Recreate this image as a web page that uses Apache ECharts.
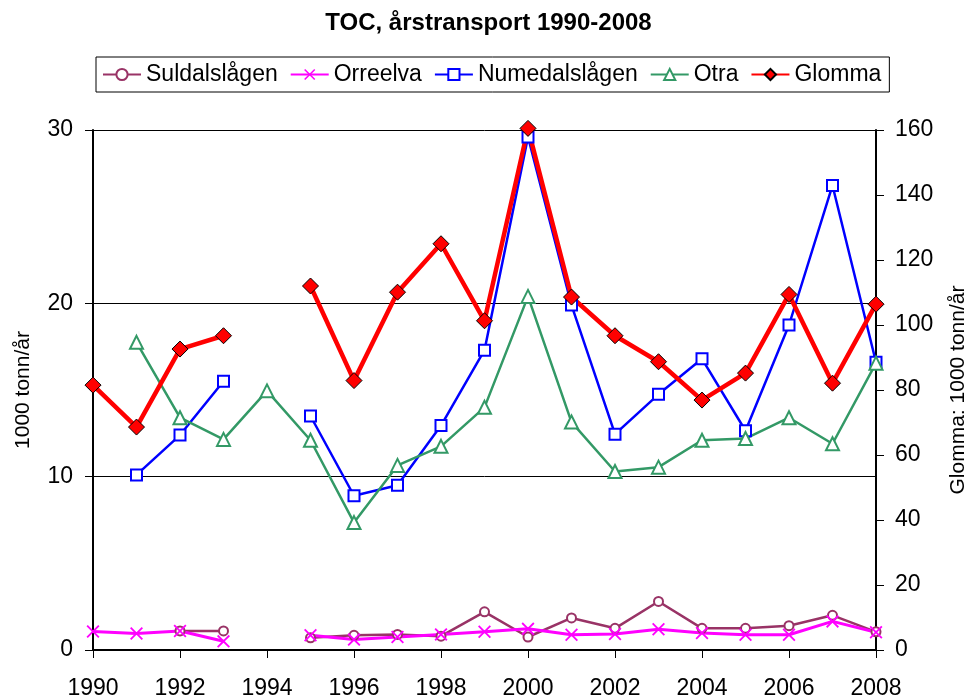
<!DOCTYPE html>
<html>
<head>
<meta charset="utf-8">
<title>TOC, årstransport 1990-2008</title>
<script src="https://cdn.jsdelivr.net/npm/echarts@6/dist/echarts.min.js"></script>
<style>
  html, body { margin: 0; padding: 0; background: #fff; }
  #chart { width: 977px; height: 700px; }
</style>
</head>
<body>
<div id="chart"></div>
<script>
// år (x-aksen)
var years = ['1990', '1991', '1992', '1993', '1994', '1995', '1996', '1997', '1998', '1999',
  '2000', '2001', '2002', '2003', '2004', '2005', '2006', '2007', '2008'];

// 1000 tonn/år, venstre akse
var suldalslagen = [null, null, 1.1, 1.1, null, 0.7, 0.85, 0.9, 0.8, 2.2, 0.75, 1.85, 1.25, 2.8, 1.25, 1.25, 1.4, 2.0, 1.05];
var orreelva = [1.07, 0.95, 1.1, 0.5, null, 0.85, 0.6, 0.75, 0.9, 1.05, 1.22, 0.88, 0.92, 1.2, 0.98, 0.88, 0.88, 1.65, 1.02];
var numedalslagen = [null, 10.1, 12.4, 15.5, null, 13.5, 8.9, 9.5, 12.95, 17.3, 29.6, 19.9, 12.45, 14.75, 16.8, 12.65, 18.75, 26.8, 16.6];
var otra = [null, 17.75, 13.4, 12.15, 14.95, 12.1, 7.35, 10.65, 11.75, 14.0, 20.4, 13.15, 10.3, 10.55, 12.1, 12.2, 13.4, 11.9, 16.55];
// Glomma, høyre akse
var glomma = [81.5, 68.6, 92.6, 96.7, null, 112.0, 82.9, 110.1, 125.0, 101.3, 160.5, 108.6, 96.7, 88.7, 76.9, 85.2, 109.4, 82.1, 106.4];

var font = 'Liberation Sans, Arial, sans-serif';
var crossSymbol = 'path://M0,1L1,0L5,4L9,0L10,1L6,5L10,9L9,10L5,6L1,10L0,9L4,5Z';

var myChart = echarts.init(document.getElementById('chart'));

var option = {
  backgroundColor: '#fff',
  animation: false,
  textStyle: { fontFamily: font, color: '#000' },
  title: {
    text: 'TOC, årstransport 1990-2008',
    left: 'center',
    top: 6,
    textStyle: { fontFamily: font, fontSize: 24, fontWeight: 'bold', color: '#000' }
  },
  legend: {
    left: 96,
    top: 57,
    padding: [6, 8, 6, 6],
    borderColor: '#000',
    borderWidth: 1,
    itemGap: 12,
    itemWidth: 38,
    itemHeight: 14,
    textStyle: { fontFamily: font, fontSize: 23, color: '#000' },
    data: ['Suldalslågen', 'Orreelva', 'Numedalslågen', 'Otra', 'Glomma']
  },
  grid: { left: 93, right: 93, top: 130, bottom: 48, containLabel: false },
  xAxis: {
    type: 'category',
    data: years,
    boundaryGap: false,
    axisLine: { lineStyle: { color: '#000', width: 2 } },
    axisTick: { interval: 1, length: 8, lineStyle: { color: '#000', width: 1 } },
    axisLabel: { interval: 1, margin: 27, fontSize: 23, color: '#000', fontFamily: font },
    splitLine: { show: false }
  },
  yAxis: [
    {
      type: 'value',
      min: 0,
      max: 30,
      interval: 10,
      name: '1000 tonn/år',
      nameLocation: 'middle',
      nameRotate: 90,
      nameGap: 59,
      nameTextStyle: { fontFamily: font, fontSize: 21, color: '#000' },
      axisLine: { show: true, lineStyle: { color: '#000', width: 2 } },
      axisTick: { show: true, length: 8, lineStyle: { color: '#000' } },
      axisLabel: { margin: 20, fontSize: 23, color: '#000', fontFamily: font },
      splitLine: { show: true, lineStyle: { color: '#000', width: 1 } }
    },
    {
      type: 'value',
      min: 0,
      max: 160,
      interval: 20,
      position: 'right',
      name: 'Glomma: 1000 tonn/år',
      nameLocation: 'middle',
      nameRotate: 90,
      nameGap: 72,
      nameTextStyle: { fontFamily: font, fontSize: 21, color: '#000' },
      axisLine: { show: true, lineStyle: { color: '#000', width: 2 } },
      axisTick: { show: true, length: 8, lineStyle: { color: '#000' } },
      axisLabel: { margin: 19, fontSize: 23, color: '#000', fontFamily: font },
      splitLine: { show: false }
    }
  ],
  series: [
    {
      name: 'Suldalslågen',
      type: 'line',
      data: suldalslagen,
      symbol: 'emptyCircle',
      symbolSize: 9,
      color: '#993366',
      lineStyle: { width: 2.5 },
      itemStyle: { borderWidth: 1.2 }
    },
    {
      name: 'Orreelva',
      type: 'line',
      data: orreelva,
      symbol: crossSymbol,
      symbolSize: 13,
      color: '#FF00FF',
      lineStyle: { width: 3 }
    },
    {
      name: 'Numedalslågen',
      type: 'line',
      data: numedalslagen,
      symbol: 'emptyRect',
      symbolSize: 11,
      color: '#0000FF',
      lineStyle: { width: 2.5 },
      itemStyle: { borderWidth: 1.5 }
    },
    {
      name: 'Otra',
      type: 'line',
      data: otra,
      symbol: 'emptyTriangle',
      symbolSize: 13,
      color: '#339966',
      lineStyle: { width: 2.5 },
      itemStyle: { borderWidth: 1.3 }
    },
    {
      name: 'Glomma',
      type: 'line',
      yAxisIndex: 1,
      data: glomma,
      clip: false,
      symbol: 'diamond',
      symbolSize: 16,
      color: '#FF0000',
      lineStyle: { width: 4.5, color: '#FF0000' },
      itemStyle: { color: '#FF0000', borderColor: '#000', borderWidth: 1 }
    }
  ]
};

myChart.setOption(option);
</script>
</body>
</html>
